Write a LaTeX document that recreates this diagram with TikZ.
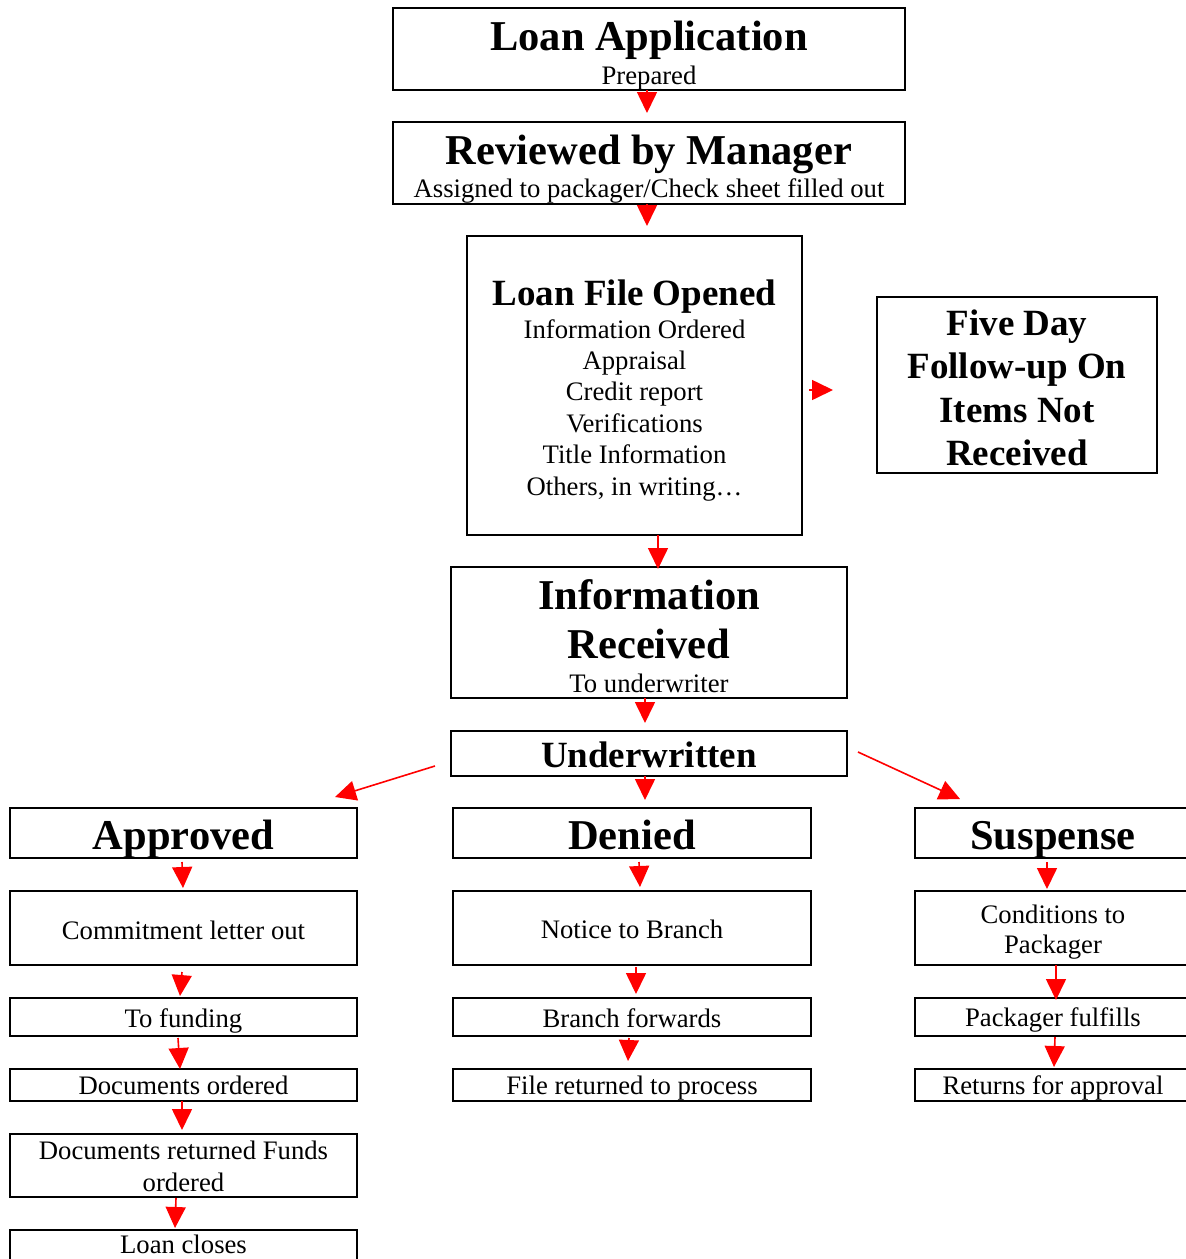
\documentclass[tikz,border=0pt]{standalone}
\usepackage{fontspec}
\setmainfont{Liberation Serif}
\usetikzlibrary{arrows.meta}
\newcommand\bodyf{\fontsize{26.7pt}{31pt}\selectfont}
\newcommand\bigt{\fontsize{42.5pt}{49pt}\selectfont\bfseries}
\newcommand\midt{\fontsize{37pt}{43pt}\selectfont\bfseries}
\newcommand\boxtext[3]{\vbox to #2{\hsize=#1\relax\offinterlineskip\vskip 1pt #3\vss}}
\newcommand\txtln[2]{\vskip #1\relax\hbox to\hsize{\hss\smash{#2}\hss}}
\begin{document}
\begin{tikzpicture}[x=1pt,y=-1pt,
  bx/.style={draw=black, line width=2pt, inner sep=0pt, outer sep=0pt, font=\bodyf},
  arr/.style={draw=red, line width=1.6pt, -{Triangle[length=21pt,width=20pt]}}]
\useasboundingbox (0,0) rectangle (1186,1259);
\fill[white] (0,0) rectangle (1186,1259);
\clip (0,0) rectangle (1186,1259);

% main column
\node[bx] (app) at (649,49) {\boxtext{512pt}{82pt}{\txtln{41.5pt}{\bigt Loan Application}\txtln{33.5pt}{Prepared}}};
\node[bx] (rev) at (649,163) {\boxtext{512pt}{82pt}{\txtln{41pt}{\bigt Reviewed by Manager}\txtln{33pt}{Assigned to packager/Check sheet filled out}}};
\node[bx] (lfo) at (634.5,385.5) {\boxtext{335pt}{299pt}{\txtln{68pt}{\midt Loan File Opened}\txtln{33pt}{Information Ordered}\txtln{31.4pt}{Appraisal}\txtln{31.4pt}{Credit report}\txtln{31.4pt}{Verifications}\txtln{31.4pt}{Title Information}\txtln{31.4pt}{Others, in writing…}}};
\node[bx] (five) at (1017,385) {\boxtext{280pt}{176pt}{\txtln{37pt}{\midt Five Day}\txtln{43pt}{\midt Follow-up On}\txtln{44pt}{\midt Items Not}\txtln{43pt}{\midt Received}}};
\node[bx] (inforec) at (649,632.5) {\boxtext{396pt}{131pt}{\txtln{41pt}{\bigt Information}\txtln{49pt}{\bigt Received}\txtln{34pt}{To underwriter}}};
\node[bx] (under) at (649,753.5) {\boxtext{396pt}{45pt}{\txtln{35pt}{\midt Underwritten}}};

% approved column
\node[bx] (appr) at (183.5,833) {\boxtext{347pt}{50pt}{\txtln{40pt}{\bigt Approved}}};
\node[bx] (commit) at (183.5,928) {\boxtext{347pt}{74pt}{\txtln{47pt}{Commitment letter out}}};
\node[bx] (fund) at (183.5,1017) {\boxtext{347pt}{38pt}{\txtln{28pt}{To funding}}};
\node[bx] (docord) at (183.5,1085) {\boxtext{347pt}{32pt}{\txtln{24.5pt}{Documents ordered}}};
\node[bx] (docret) at (183.5,1165.5) {\boxtext{347pt}{63pt}{\txtln{24pt}{Documents returned Funds}\txtln{32pt}{ordered}}};
\node[bx] (closes) at (183.5,1249) {\boxtext{347pt}{38pt}{\txtln{22pt}{Loan closes}}};

% denied column
\node[bx] (denied) at (632,833) {\boxtext{358pt}{50pt}{\txtln{40pt}{\bigt Denied}}};
\node[bx] (notice) at (632,928) {\boxtext{358pt}{74pt}{\txtln{46pt}{Notice to Branch}}};
\node[bx] (branch) at (632,1017) {\boxtext{358pt}{38pt}{\txtln{28pt}{Branch forwards}}};
\node[bx] (fileret) at (632,1085) {\boxtext{358pt}{32pt}{\txtln{24.5pt}{File returned to process}}};

% suspense column
\node[bx] (susp) at (1053,833) {\boxtext{276pt}{50pt}{\txtln{40pt}{\bigt Suspense}}};
\node[bx] (cond) at (1053,928) {\boxtext{276pt}{74pt}{\txtln{31pt}{Conditions to}\txtln{30pt}{Packager}}};
\node[bx] (pkg) at (1053,1017) {\boxtext{276pt}{38pt}{\txtln{27pt}{Packager fulfills}}};
\node[bx] (ret) at (1053,1085) {\boxtext{276pt}{32pt}{\txtln{24.5pt}{Returns for approval}}};

% connectors, main column
\draw[arr] ([xshift=-2pt]app.south) -- ([xshift=-2pt,yshift=9pt]rev.north);
\draw[arr] ([xshift=-2pt]rev.south) -- ([xshift=12.5pt,yshift=10pt]lfo.north);
\draw[arr] ([xshift=23.5pt]lfo.south) -- ([xshift=9pt,yshift=-2pt]inforec.north);
\draw[arr] ([xshift=-4pt]inforec.south) -- ([xshift=-4pt,yshift=8pt]under.north);
\draw[arr] ([xshift=-4pt]under.south) -- ([xshift=13pt,yshift=8pt]denied.north);
\draw[arr] ([xshift=7pt,yshift=-4.5pt]lfo.east) -- ([xshift=-44pt,yshift=-5pt]five.west);
\draw[arr] ([xshift=-16pt,yshift=-12.5pt]under.west) -- ([xshift=-22pt,yshift=11pt]appr.north east);
\draw[arr] ([xshift=11pt,yshift=1.5pt]under.east) -- ([xshift=-93pt,yshift=9pt]susp.north);

% approved column
\draw[arr] ([xshift=-1.5pt,yshift=-4pt]appr.south) -- ([xshift=-0.5pt,yshift=3pt]commit.north);
\draw[arr] ([xshift=-1.5pt,yshift=-7pt]commit.south) -- ([xshift=-3.5pt,yshift=2pt]fund.north);
\draw[arr] ([xshift=-5.5pt,yshift=-2pt]fund.south) -- ([xshift=-3.5pt]docord.north);
\draw[arr] ([xshift=-1.5pt]docord.south) -- ([xshift=-1.5pt,yshift=4pt]docret.north);
\draw[arr] ([xshift=-7.5pt,yshift=-1pt]docret.south) -- ([xshift=-8.5pt,yshift=2pt]closes.north);

% denied column
\draw[arr] ([xshift=7pt,yshift=-4pt]denied.south) -- ([xshift=8pt,yshift=4pt]notice.north);
\draw[arr] ([xshift=4pt,yshift=-2pt]notice.south) -- ([xshift=4pt,yshift=4pt]branch.north);
\draw[arr] ([xshift=-3pt,yshift=-2pt]branch.south) -- ([xshift=-4pt,yshift=8pt]fileret.north);

% suspense column
\draw[arr] ([xshift=-6pt,yshift=-4pt]susp.south) -- ([xshift=-6pt,yshift=2pt]cond.north);
\draw[arr] ([xshift=3pt]cond.south) -- ([xshift=3pt,yshift=-2pt]pkg.north);
\draw[arr] ([xshift=2pt,yshift=-1pt]pkg.south) -- ([xshift=1pt,yshift=2pt]ret.north);
\end{tikzpicture}
\end{document}
